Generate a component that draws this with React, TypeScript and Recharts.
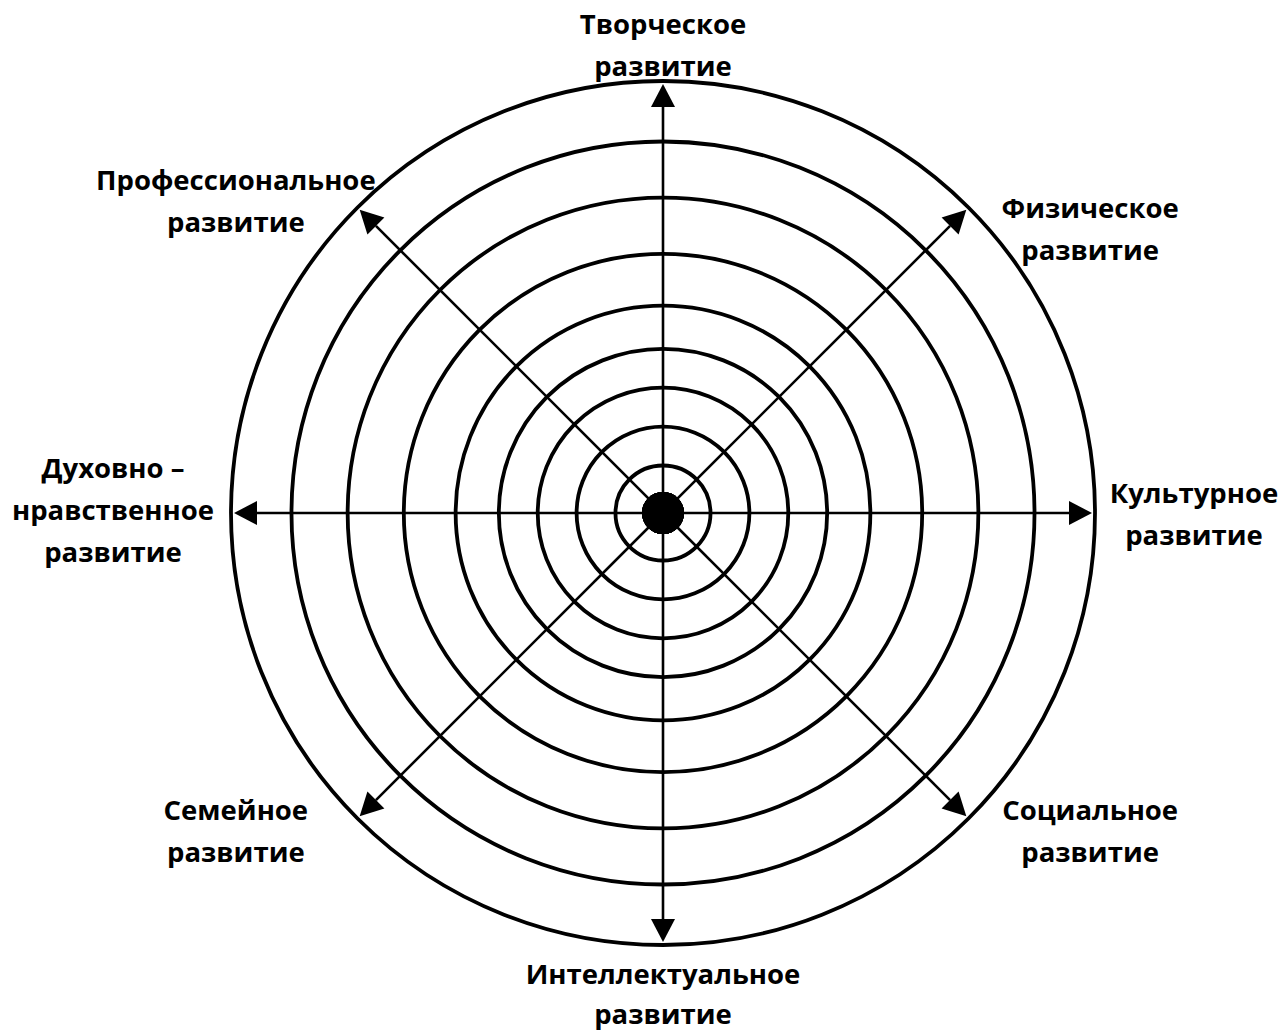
import { RadarChart, PolarGrid, PolarAngleAxis, PolarRadiusAxis, Radar } from "recharts";

// directions of development, clockwise from the top
const DIRECTIONS = [
  "Творческое\nразвитие",
  "Физическое\nразвитие",
  "Культурное\nразвитие",
  "Социальное\nразвитие",
  "Интеллектуальное\nразвитие",
  "Семейное\nразвитие",
  "Духовно –\nнравственное\nразвитие",
  "Профессиональное\nразвитие",
];
// every axis starts in the same centre point
const CENTER_VALUES = [0, 0, 0, 0, 0, 0, 0, 0];
// concentric rings, % of the outer radius
const RING_LEVELS = [11, 20, 29, 38, 48, 60, 73, 86, 100];

const data = DIRECTIONS.map((name, i) => ({ name, center: CENTER_VALUES[i] }));

const W = 1285;
const H = 1032;
const CX = 663;
const CY = 513;
const R = 432;
const LINE = 42;
const FONT = "'Open Sans', 'Noto Sans', sans-serif";

function DirectionTick(props: any) {
  const { x, y, payload } = props;
  const dx = x - CX;
  const dy = y - CY;
  const len = Math.hypot(dx, dy) || 1;
  const ux = dx / len;
  const uy = dy / len;

  // arrow along the axis
  const tipR = R - 3;
  const tx = CX + ux * tipR;
  const ty = CY + uy * tipR;
  const head = 23;
  const half = 12;
  const bx = tx - ux * head;
  const by = ty - uy * head;
  const px = -uy;
  const py = ux;

  const lines = String(payload.value).split("\n");
  let lx: number;
  let ly: number;
  let step = LINE;
  if (Math.abs(ux) < 0.1) {
    lx = x;
    if (uy < 0) {
      ly = y + 3 - LINE * (lines.length - 1);
    } else {
      ly = y + 31;
      step = 40;
    }
  } else if (Math.abs(uy) < 0.1) {
    if (ux > 0) {
      lx = x + 91;
      ly = y - 10;
    } else {
      lx = x - 110;
      ly = y - 35;
    }
  } else {
    lx = x + Math.sign(ux) * 116;
    ly = uy < 0 ? y + 2 + 20 * ux : y - 4;
  }

  return (
    <g>
      <line x1={CX} y1={CY} x2={bx} y2={by} stroke="#000" strokeWidth={2.6} />
      <polygon
        points={`${tx},${ty} ${bx + px * half},${by + py * half} ${bx - px * half},${by - py * half}`}
        fill="#000"
      />
      <text
        x={lx}
        y={ly}
        textAnchor="middle"
        fontFamily={FONT}
        fontWeight={700}
        fontSize={27.5}
        fill="#000"
      >
        {lines.map((l, i) => (
          <tspan key={i} x={lx} dy={i === 0 ? 0 : step}>
            {l}
          </tspan>
        ))}
      </text>
    </g>
  );
}

export default function App() {
  return (
    <div style={{ position: "absolute", left: 0, top: 0, width: W, height: H, background: "#fff" }}>
      <RadarChart
        width={W}
        height={H}
        data={data}
        cx={CX}
        cy={CY}
        outerRadius={R}
        margin={{ top: 0, right: 0, bottom: 0, left: 0 }}
      >
        <PolarGrid gridType="circle" radialLines={false} stroke="#000" strokeWidth={3.8} />
        <PolarRadiusAxis
          type="number"
          domain={[0, 100]}
          ticks={RING_LEVELS}
          tick={false}
          axisLine={false}
        />
        <PolarAngleAxis
          dataKey="name"
          axisLine={false}
          tickLine={false}
          tick={(p: any) => <DirectionTick {...p} />}
        />
        <Radar
          dataKey="center"
          stroke="none"
          fill="none"
          dot={{ r: 21, fill: "#000", stroke: "none" }}
          isAnimationActive={false}
        />
      </RadarChart>
    </div>
  );
}
